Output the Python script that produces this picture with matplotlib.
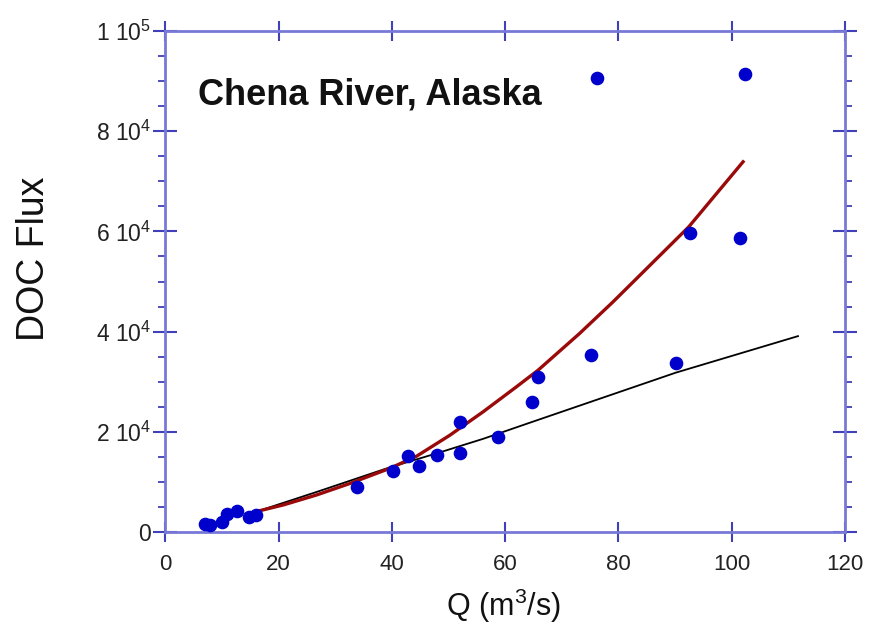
import matplotlib
matplotlib.use("Agg")
import matplotlib.pyplot as plt
from matplotlib.ticker import MultipleLocator

plt.rcParams['font.family'] = ['Liberation Sans', 'DejaVu Sans']
plt.rcParams['mathtext.default'] = 'regular'

# measured discharge vs DOC flux
q_obs = [7.0, 7.9, 9.9, 10.8, 12.7, 14.8, 16.0, 33.8, 40.2, 42.8, 44.8, 47.9,
         52.0, 52.1, 58.7, 64.8, 65.7, 75.2, 76.2, 90.1, 92.6, 101.5, 102.3]
flux_obs = [1600, 1300, 2000, 3500, 4200, 2900, 3300, 9000, 12200, 15200, 13200, 15400,
            15800, 22000, 19000, 25900, 30900, 35300, 90700, 33800, 59700, 58600, 91500]

# fitted curves
q_fit_red = [16.1, 20.8, 26.7, 32.6, 39.6, 44.3, 50.2, 56.1, 62.0, 65.8, 73.1, 79.0, 84.9, 92.4, 102.0]
flux_fit_red = [4100, 5400, 7400, 9700, 12700, 15100, 19300, 24000, 29000, 32300, 39600, 45900, 52500, 60900, 73900]

q_fit_black = [16.7, 26.7, 39.6, 47.9, 56.1, 64.3, 90.1, 111.7]
flux_fit_black = [4300, 8000, 12900, 15700, 18600, 21800, 31800, 39100]

x_ticks = [0, 20, 40, 60, 80, 100, 120]
y_ticks = [0, 20000, 40000, 60000, 80000, 100000]
y_tick_labels = ['0', '2 10$^4$', '4 10$^4$', '6 10$^4$', '8 10$^4$', '1 10$^5$']

frame_col = '#7878d6'
tick_col = '#4040b8'

fig = plt.figure(figsize=(8.75, 6.27), dpi=100)
ax = fig.add_axes([0.1891, 0.1515, 0.7766, 0.7990])

ax.plot(q_fit_black, flux_fit_black, color='black', lw=1.3, zorder=2)
ax.plot(q_fit_red, flux_fit_red, color='#9a0a0a', lw=2.4, zorder=3)
ax.plot(q_obs, flux_obs, 'o', color='#0000cc', ms=8.8, mec='#0000cc', zorder=4)

ax.set_xlim(0, 120)
ax.set_ylim(0, 100000)
ax.set_xticks(x_ticks)
ax.set_xticklabels([str(v) for v in x_ticks])
ax.set_yticks(y_ticks)
ax.set_yticklabels(y_tick_labels)
ax.yaxis.set_minor_locator(MultipleLocator(5000))

for sp in ax.spines.values():
    sp.set_color(frame_col)
    sp.set_linewidth(2)

ax.tick_params(axis='x', which='major', direction='inout', length=14, width=1.5,
               color=tick_col, top=True, bottom=True, labelsize=16, pad=9, labelcolor='#222222')
ax.tick_params(axis='y', which='major', direction='inout', length=17, width=1.5,
               color=tick_col, left=True, right=True, labelsize=16.5, pad=2, labelcolor='#222222')
ax.tick_params(axis='y', which='minor', direction='out', length=5, width=1.3,
               color=tick_col, left=True, right=True)

ax.text(0.048, 0.872, 'Chena River, Alaska', transform=ax.transAxes,
        fontsize=26, fontweight='bold', ha='left', va='center', color='#111111')

fig.text(34 / 875, 1 - 259 / 627, 'DOC Flux', rotation=90, ha='center', va='center',
         fontsize=27, color='#111111')
fig.text(503 / 875, 1 - 606 / 627, 'Q (m$^3$/s)', ha='center', va='center',
         fontsize=22, color='#111111')

fig.savefig('out.png', dpi=100, facecolor='white')
